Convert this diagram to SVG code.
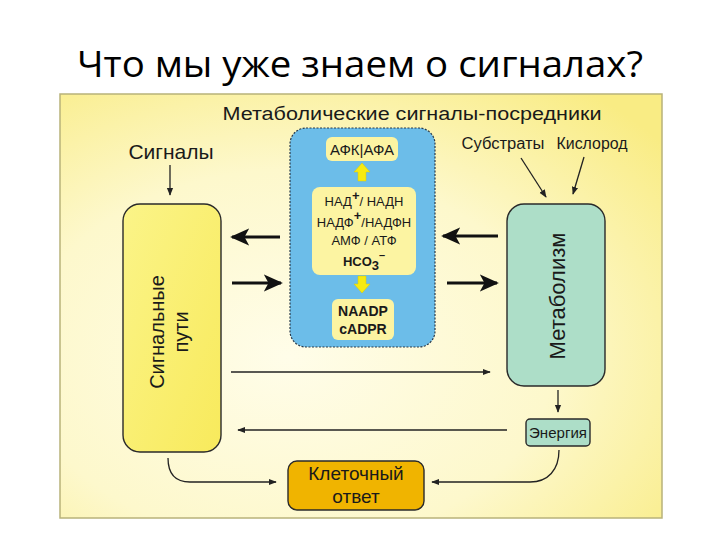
<svg xmlns="http://www.w3.org/2000/svg" width="720" height="540" viewBox="0 0 720 540">
<defs>
<radialGradient id="bg" cx="0.38" cy="0.62" r="0.8">
<stop offset="0" stop-color="#fffde9"/>
<stop offset="0.55" stop-color="#fdf8cc"/>
<stop offset="1" stop-color="#f9ec84"/>
</radialGradient>
<linearGradient id="yb" x1="0" y1="0" x2="1" y2="1">
<stop offset="0" stop-color="#fbf488"/>
<stop offset="1" stop-color="#f8ea5c"/>
</linearGradient>
<marker id="ah" viewBox="0 0 10 10" refX="9" refY="5" markerWidth="8" markerHeight="8" markerUnits="userSpaceOnUse" orient="auto">
<path d="M0,1 L10,5 L0,9 Z" fill="#222"/>
</marker>
<marker id="ahb" viewBox="0 0 10 10" refX="9" refY="5" markerWidth="6" markerHeight="6" orient="auto">
<path d="M0,0.5 L10,5 L0,9.5 L2.5,5 Z" fill="#111"/>
</marker>
</defs>
<style>
.t{font-family:"Liberation Sans",Arial,sans-serif;fill:#1a1a1a}
.thin{fill:none;stroke:#222;stroke-width:1.3;marker-end:url(#ah)}
.thick{fill:none;stroke:#111;stroke-width:3.2;marker-end:url(#ahb)}
.box{stroke:#2a2a2a;stroke-width:1.4}
.inner{fill:#fcf4a2}
.yarr{fill:#f6ea10;stroke:#d8c800;stroke-width:0.5}
</style>
<rect x="0" y="0" width="720" height="540" fill="#ffffff"/>
<text x="360" y="77" text-anchor="middle" font-size="36" textLength="566" lengthAdjust="spacingAndGlyphs" style="font-family:'Open Sans','Noto Sans',sans-serif;fill:#000">Что мы уже знаем о сигналах?</text>
<rect x="60" y="94" width="602" height="424" fill="url(#bg)" stroke="#b8b27a" stroke-width="1.5"/>
<text class="t" x="412" y="120" text-anchor="middle" font-size="18" textLength="379" lengthAdjust="spacingAndGlyphs">Метаболические  сигналы-посредники</text>
<g id="signals-label"><text class="t" x="171" y="159" text-anchor="middle" font-size="21">Сигналы</text></g>
<g id="substrates-label"><text class="t" x="503" y="149" text-anchor="middle" font-size="16" textLength="83" lengthAdjust="spacingAndGlyphs">Субстраты</text></g>
<g id="oxygen-label"><text class="t" x="592" y="149" text-anchor="middle" font-size="16" textLength="71" lengthAdjust="spacingAndGlyphs">Кислород</text></g>
<g id="signal-pathways">
<rect class="box" x="123" y="204" width="98" height="248" rx="17" fill="url(#yb)"/>
<text class="t" font-size="20" text-anchor="middle" transform="translate(164,332) rotate(-90)">Сигнальные</text>
<text class="t" font-size="20" text-anchor="middle" transform="translate(188,332) rotate(-90)">пути</text>
</g>
<g id="mediators">
<rect x="290" y="128" width="145" height="219" rx="16" fill="#6cbde9" stroke="#2a3a4a" stroke-width="1.2" stroke-dasharray="2,1.5"/>
<rect class="inner" x="326" y="137" width="72" height="24" rx="6"/>
<text class="t" x="362" y="155" text-anchor="middle" font-size="15">АФК|АФА</text>
<path class="yarr" d="M362,163 L370,172 L366,172 L366,181 L358,181 L358,172 L354,172 Z"/>
<rect class="inner" x="312" y="187" width="104" height="88" rx="8"/>
<text class="t" x="364" y="206" text-anchor="middle" font-size="13">НАД<tspan dy="-6" font-weight="bold">+</tspan><tspan dy="6">/ НАДН</tspan></text>
<text class="t" x="364" y="227" text-anchor="middle" font-size="13">НАДФ<tspan dy="-7" font-weight="bold">+</tspan><tspan dy="7">/НАДФН</tspan></text>
<text class="t" x="364" y="245" text-anchor="middle" font-size="13">АМФ / АТФ</text>
<text class="t" x="364" y="266" text-anchor="middle" font-size="13" font-weight="bold">HCO<tspan dy="4">3</tspan><tspan dy="-11" font-size="11">–</tspan></text>
<path class="yarr" d="M362,293 L370,284 L366,284 L366,276 L358,276 L358,284 L354,284 Z"/>
<rect class="inner" x="332" y="299" width="62" height="41" rx="6"/>
<text class="t" x="363" y="316" text-anchor="middle" font-size="14" font-weight="bold">NAADP</text>
<text class="t" x="363" y="334" text-anchor="middle" font-size="14" font-weight="bold">cADPR</text>
</g>
<g id="metabolism">
<rect class="box" x="507" y="204" width="98" height="182" rx="17" fill="#addec8"/>
<text class="t" font-size="22" text-anchor="middle" transform="translate(565,296) rotate(-90)">Метаболизм</text>
</g>
<g id="energy">
<rect class="box" x="526" y="419" width="64" height="27" rx="4" fill="#addec8"/>
<text class="t" x="558" y="438" text-anchor="middle" font-size="15" textLength="58" lengthAdjust="spacingAndGlyphs">Энергия</text>
</g>
<g id="cell-response">
<rect class="box" x="288" y="461" width="136" height="49" rx="9" fill="#f0b400"/>
<text class="t" x="356" y="480" text-anchor="middle" font-size="19">Клеточный</text>
<text class="t" x="356" y="503" text-anchor="middle" font-size="19">ответ</text>
</g>
<g id="connectors">
<line class="thin" x1="170" y1="165" x2="170" y2="195"/>
<line class="thin" x1="521" y1="158" x2="546" y2="197"/>
<line class="thin" x1="584" y1="157" x2="573" y2="194"/>
<line class="thick" x1="280" y1="237" x2="232" y2="237"/>
<line class="thick" x1="232" y1="283" x2="281" y2="283"/>
<line class="thick" x1="498" y1="236" x2="443" y2="236"/>
<line class="thick" x1="447" y1="283" x2="497" y2="283"/>
<line class="thin" x1="231" y1="372" x2="490" y2="372"/>
<line class="thin" x1="558" y1="390" x2="558" y2="412"/>
<line class="thin" x1="507" y1="430" x2="238" y2="430"/>
<path class="thin" d="M168,458 C168,472 174,482 190,482 L276,482"/>
<path class="thin" d="M559,450 C559,470 548,482 530,482 L432,482"/>
</g>
</svg>
